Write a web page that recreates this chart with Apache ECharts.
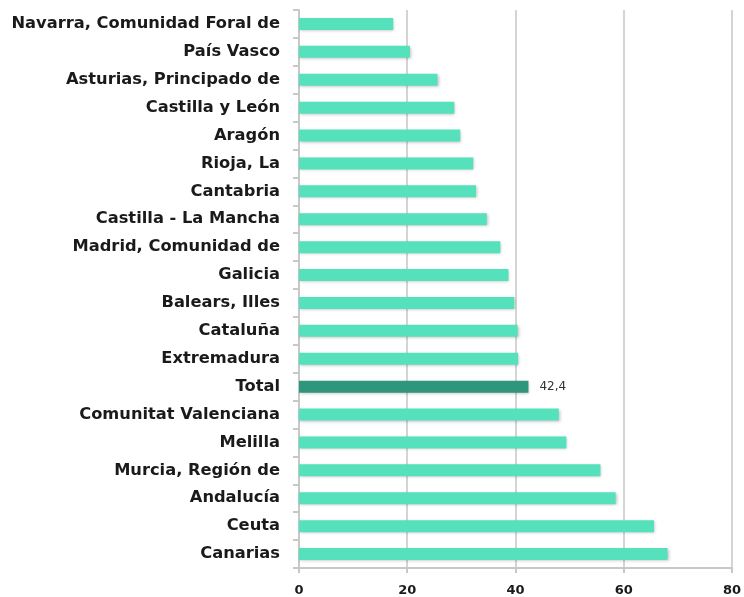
<!DOCTYPE html>
<html>
<head>
<meta charset="utf-8">
<script src="https://cdn.jsdelivr.net/npm/echarts@6/dist/echarts.min.js"></script>
<style>
  html, body { margin: 0; padding: 0; background: #fff; }
  #chart { width: 744px; height: 597px; }
</style>
</head>
<body>
<div id="chart"></div>
<script>
// regiones, de abajo hacia arriba
const regiones = [
  'Canarias', 'Ceuta', 'Andalucía', 'Murcia, Región de', 'Melilla',
  'Comunitat Valenciana', 'Total', 'Extremadura', 'Cataluña', 'Balears, Illes',
  'Galicia', 'Madrid, Comunidad de', 'Castilla - La Mancha', 'Cantabria', 'Rioja, La',
  'Aragón', 'Castilla y León', 'Asturias, Principado de', 'País Vasco', 'Navarra, Comunidad Foral de'
];
const valores = [
  68.1, 65.6, 58.5, 55.7, 49.4,
  48.0, 42.4, 40.5, 40.4, 39.8,
  38.7, 37.2, 34.7, 32.7, 32.2,
  29.8, 28.7, 25.6, 20.5, 17.4
];
const ticksX = [0, 20, 40, 60, 80];

const colorBarra = '#55E1BC';
const colorTotal = '#2E967A';

const chart = echarts.init(document.getElementById('chart'));

var option = {
  animation: false,
  grid: { left: 299, right: 10, top: 10, bottom: 29 },
  xAxis: {
    type: 'value',
    min: ticksX[0],
    max: ticksX[ticksX.length - 1],
    interval: 20,
    axisLine: { show: true, lineStyle: { color: '#c8c8c8', width: 2 } },
    axisTick: { show: true, length: 5, lineStyle: { color: '#c8c8c8', width: 2 } },
    axisLabel: {
      color: '#1a1a1a', fontSize: 13, fontWeight: 'bold',
      fontFamily: 'DejaVu Sans', margin: 16
    },
    splitLine: { show: true, lineStyle: { color: '#d4d4d4', width: 2 } }
  },
  yAxis: {
    type: 'category',
    data: regiones,
    axisLine: { show: true, lineStyle: { color: '#c8c8c8', width: 2 } },
    axisTick: { show: true, length: 6, lineStyle: { color: '#c8c8c8', width: 2 } },
    axisLabel: {
      color: '#1a1a1a', fontSize: 16.3, fontWeight: 'bold',
      fontFamily: 'DejaVu Sans', margin: 19
    }
  },
  series: [{
    type: 'bar',
    barWidth: 12,
    data: valores.map((v, i) => ({
      value: v,
      itemStyle: { color: regiones[i] === 'Total' ? colorTotal : colorBarra },
      label: regiones[i] === 'Total' ? {
        show: true, position: 'right', distance: 11,
        formatter: (p) => String(p.value).replace('.', ','),
        color: '#333', fontSize: 12, fontFamily: 'DejaVu Sans'
      } : { show: false }
    })),
    itemStyle: {
      shadowColor: 'rgba(0,0,0,0.25)', shadowBlur: 3, shadowOffsetX: 1, shadowOffsetY: 1
    }
  }]
};
chart.setOption(option);
</script>
</body>
</html>
